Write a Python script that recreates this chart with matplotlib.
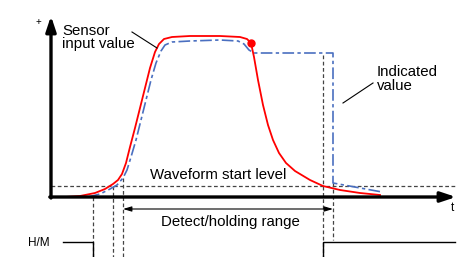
import matplotlib
matplotlib.use("Agg")
import matplotlib.pyplot as plt

plt.rcParams['font.family'] = ['Liberation Sans', 'DejaVu Sans']

# ---- data (time t, value v; v = 0 on the time axis) ----
sensor_t = [65, 80, 95, 105, 113, 118, 122, 126, 130, 135, 140, 145, 150, 155, 159,
            164, 172, 190, 220, 240, 247, 251, 254, 258, 263, 268, 273, 279, 286,
            295, 310, 323, 340, 360, 380]
sensor_v = [0, 1, 4, 8, 13, 17, 23, 34, 50, 69, 89, 109, 129, 145, 153,
            158, 160, 161, 161, 160, 158, 154, 140, 117, 92, 72, 57, 44, 34,
            26, 17, 11, 7, 4, 2]

indicated_t = [88, 100, 110, 117, 123, 127, 131, 136, 141, 146, 151, 156, 161, 165,
               172, 190, 220, 238, 244, 249, 254, 333, 333, 382]
indicated_v = [0, 3, 8, 12, 19, 27, 40, 57, 77, 97, 117, 134, 146, 152,
               155, 156, 157, 156, 153, 147, 144, 144, 14, 5]

peak_t, peak_v = 251, 154
start_level = 11

# vertical guide lines: (t, top value, bottom value)
guide_t = [93, 113, 123, 323, 333]
guide_top = [0, 11, 19, 142, 14]
guide_bottom = [-60, -60, -60, -60, -43]

# H/M signal
hm_t = [63, 93, 93]
hm_v = [-45, -45, -60]
hm2_t = [323, 323, 455]
hm2_v = [-60, -45, -45]

range_start, range_end, range_v = 123, 333, -12

fig = plt.figure(figsize=(4.77, 2.57), dpi=100)
ax = fig.add_axes([0, 0, 1, 1])
ax.set_xlim(0, 477)
ax.set_ylim(-60, 197)
ax.axis('off')

gray = '#444444'
# start level
ax.plot([51, 455], [start_level, start_level], color=gray, lw=0.9, dashes=(3, 2))
# guides
for t, top, bot in zip(guide_t, guide_top, guide_bottom):
    ax.plot([t, t], [top, bot], color=gray, lw=0.9, dashes=(3, 2))

# curves
ax.plot(indicated_t, indicated_v, color='#4a6fc0', lw=1.2, dashes=(7, 2, 2, 2))
ax.plot(sensor_t, sensor_v, color='#ff0000', lw=1.3)
ax.plot([peak_t], [peak_v], 'o', color='#ff0000', ms=5)

# axes
ax.annotate('', xy=(51, 181), xytext=(51, -1), arrowprops=dict(
    arrowstyle='-|>,head_length=0.9,head_width=0.3', lw=2.4, color='black',
    shrinkA=0, shrinkB=0))
ax.annotate('', xy=(456, 0), xytext=(49.8, 0), arrowprops=dict(
    arrowstyle='-|>,head_length=0.9,head_width=0.3', lw=2.4, color='black',
    shrinkA=0, shrinkB=0))

# H/M
ax.plot(hm_t, hm_v, color='black', lw=1)
ax.plot(hm2_t, hm2_v, color='black', lw=1)

# range arrow
ax.annotate('', xy=(range_end, range_v), xytext=(range_start, range_v), arrowprops=dict(
    arrowstyle='<|-|>,head_length=0.5,head_width=0.15', lw=0.8, color='black',
    shrinkA=0, shrinkB=0))

# leader lines
ax.plot([132, 157], [165, 149], color='black', lw=0.8)
ax.plot([343, 373], [94, 114], color='black', lw=0.8)

fs = 10.8
ax.text(62, 162, 'Sensor', fontsize=fs, ha='left', va='baseline')
ax.text(62, 149, 'input value', fontsize=fs, ha='left', va='baseline')
ax.text(377, 121, 'Indicated', fontsize=fs, ha='left', va='baseline')
ax.text(377, 107, 'value', fontsize=fs, ha='left', va='baseline')
ax.text(218, 18, 'Waveform start level', fontsize=fs, ha='center', va='baseline')
ax.text(230, -29, 'Detect/holding range', fontsize=fs, ha='center', va='baseline')
ax.text(28, -49, 'H/M', fontsize=8.5, ha='left', va='baseline')
ax.text(452, -14, 't', fontsize=8.5, ha='center', va='baseline')
ax.text(38, 172, '+', fontsize=7, ha='center', va='baseline')

fig.savefig('out.png', dpi=100)
